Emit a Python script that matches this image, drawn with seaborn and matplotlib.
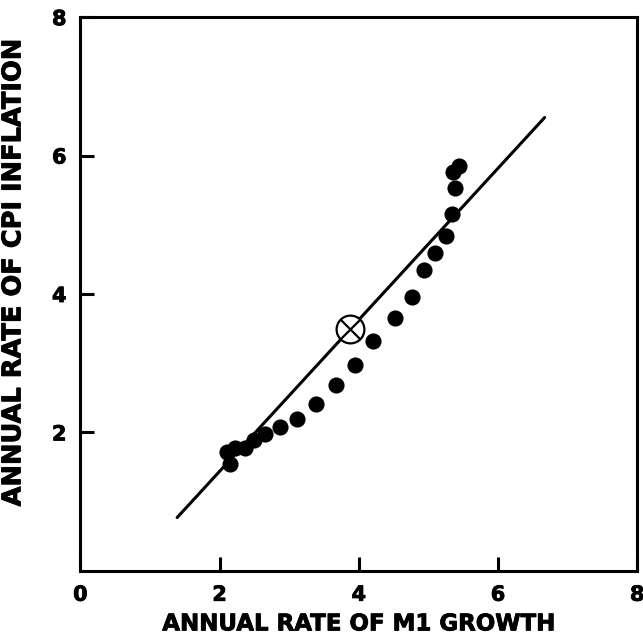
"""
CPI inflation vs M1 growth - scatter with fitted line
"""

import matplotlib
matplotlib.use("Agg")
import matplotlib.pyplot as plt
import matplotlib.patheffects as pe
import seaborn as sns
import pandas as pd

# ---------- DATA ----------
m1_growth = [2.15, 2.10, 2.22, 2.37, 2.50, 2.65, 2.87, 3.11, 3.39, 3.67, 3.95,
             4.20, 4.52, 4.76, 4.93, 5.10, 5.26, 5.34, 5.38, 5.36, 5.44]
cpi_inflation = [1.54, 1.72, 1.78, 1.77, 1.89, 1.98, 2.08, 2.20, 2.41, 2.68, 2.97,
                 3.32, 3.65, 3.96, 4.35, 4.59, 4.84, 5.15, 5.53, 5.76, 5.85]

line_x = [1.39, 6.67]
line_y = [0.77, 6.55]

mark_x = [3.88]
mark_y = [3.50]

x_ticks = [0, 2, 4, 6, 8]
y_ticks = [2, 4, 6, 8]

df = pd.DataFrame({"m1": m1_growth, "cpi": cpi_inflation})
line_df = pd.DataFrame({"x": line_x, "y": line_y})

# ---------- PLOT ----------
sns.set_style("white")
plt.rcParams["font.family"] = ["DejaVu Sans"]
plt.rcParams["font.weight"] = "bold"
plt.rcParams["text.color"] = "black"
plt.rcParams["axes.labelcolor"] = "black"
plt.rcParams["xtick.color"] = "black"
plt.rcParams["ytick.color"] = "black"

heavy = [pe.withStroke(linewidth=0.6, foreground="black")]

fig = plt.figure(figsize=(6.43, 6.35), dpi=100)
ax = fig.add_axes([0.125, 0.101, 0.866, 0.872])

sns.lineplot(data=line_df, x="x", y="y", color="black", linewidth=2.2, ax=ax)
sns.scatterplot(data=df, x="m1", y="cpi", color="black", s=135,
                edgecolor="black", linewidth=0, ax=ax, zorder=3)

# circled cross marker
ax.scatter(mark_x, mark_y, s=400, facecolor="white", edgecolor="black",
           linewidth=1.6, zorder=4)
ax.scatter(mark_x, mark_y, s=200, marker="x", color="black",
           linewidth=1.6, zorder=5)

ax.set_xlim(0, 8)
ax.set_ylim(0, 8)
ax.set_xticks(x_ticks)
ax.set_yticks(y_ticks)
ax.set_xticklabels([str(t) for t in x_ticks], fontsize=15, fontweight="bold")
ax.set_yticklabels([str(t) for t in y_ticks], fontsize=15, fontweight="bold")
ax.tick_params(direction="in", length=10, width=2.2, pad=10,
               bottom=True, left=True, colors="black")
for lab in ax.get_xticklabels() + ax.get_yticklabels():
    lab.set_path_effects(heavy)

for sp in ax.spines.values():
    sp.set_linewidth(2.2)
    sp.set_color("black")

ax.set_xlabel("ANNUAL RATE OF M1 GROWTH", fontsize=16.5, fontweight="bold",
              color="black", path_effects=heavy)
ax.set_ylabel("ANNUAL RATE OF CPI INFLATION", fontsize=18.5, fontweight="bold",
              color="black", path_effects=heavy)
ax.xaxis.set_label_coords(0.50, -0.075)
ax.yaxis.set_label_coords(-0.097, 0.54)

fig.savefig("out.png", dpi=100)
plt.close(fig)
